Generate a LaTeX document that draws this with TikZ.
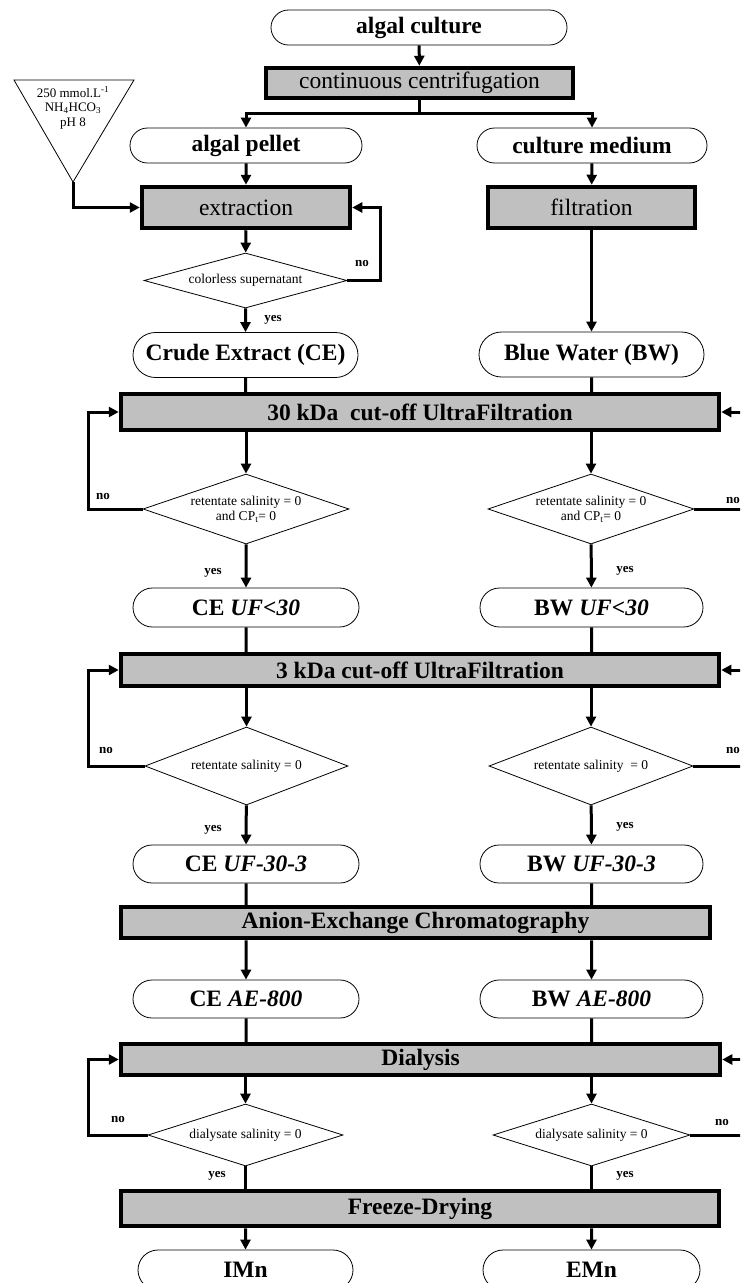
\documentclass[tikz,border=0pt]{standalone}
\usepackage{fontspec}
\setmainfont{Liberation Serif}
\usepackage{tikz}
\usetikzlibrary{shapes,arrows,positioning,calc,arrows.meta}

\definecolor{boxgray}{HTML}{C0C0C0}

\begin{document}
\begin{tikzpicture}[x=1pt,y=-1pt,
    oval/.style={rounded rectangle, draw, line width=0.8pt, inner sep=0pt, font=\fontsize{23.5}{26}\selectfont\bfseries},
    stage/.style={rectangle, draw, fill=boxgray, line width=4.5pt, inner sep=0pt, font=\fontsize{23.5}{26}\selectfont},
    test/.style={diamond, draw, line width=0.8pt, inner sep=0pt, align=center, font=\fontsize{13.5}{15}\selectfont},
    tag/.style={inner sep=0pt, font=\fontsize{13}{14}\selectfont\bfseries},
    line/.style={line width=3pt},
    flow/.style={line width=3pt, -{Triangle[length=10pt,width=10pt]}}]
    \useasboundingbox (0,0) rectangle (740,1283);
    \clip (0,0) rectangle (740,1283);
    % Harvest
    \node[oval, minimum width=296pt, minimum height=35pt] (culture) at (419,27.5) {algal culture};
    \node[stage, minimum width=307pt, minimum height=30pt] (centrif) at (419.5,83) {continuous centrifugation};
    \node[oval, minimum width=232pt, minimum height=35pt] (pellet) at (246,145.5) {algal pellet};
    \node[oval, minimum width=230pt, minimum height=35pt] (medium) at (592,145.5) {culture medium};
    \coordinate (split) at (419.5,113);
    \draw[flow] (culture) -- (centrif);
    \draw[line] (centrif) -- (split);
    \draw[flow] (split) -| (pellet.north);
    \draw[flow] (split) -| (medium.north);
    % Extraction and filtration
    \node[stage, minimum width=208pt, minimum height=41pt] (extract) at (246,207.5) {extraction};
    \node[stage, minimum width=207pt, minimum height=41pt] (filtr) at (591.5,207.5) {filtration};
    \draw[line width=0.8pt] (14,80) -- (134,80) -- (73,182) -- cycle;
    \node[align=center, inner sep=0pt, font=\fontsize{13}{14.5}\selectfont] (buffer) at (73,108)
        {250 mmol.L\textsuperscript{-1}\\NH\textsubscript{4}HCO\textsubscript{3}\\pH 8};
    \coordinate (apex) at (73,182);
    \draw[flow] (apex) |- (extract.west);
    \draw[flow] (pellet) -- (extract);
    \draw[flow] (medium) -- (filtr);
    \node[test, shape aspect=3.7, minimum width=203pt, minimum height=55pt] (supernat) at (245.5,280.5) {colorless supernatant};
    \draw[flow] (extract) -- (supernat);
    \draw[flow] (supernat.east) -- ++(33,0) |- (extract.east);
    \node[tag] (no1) at (362,263) {no};
    \node[oval, minimum width=225pt, minimum height=45pt] (CE) at (245.5,355) {Crude Extract (CE)};
    \node[oval, minimum width=225pt, minimum height=45pt] (BW) at (591.5,354.5) {Blue Water (BW)};
    \draw[flow] (supernat) -- (CE);
    \node[tag] (yes1) at (273,320) {yes};
    \draw[flow] (filtr) -- (BW);
    % 30 kDa ultrafiltration
    \node[stage, minimum width=598pt, minimum height=36pt, font=\fontsize{23.5}{26}\selectfont\bfseries] (uf30) at (420,412) {30 kDa\ \ cut-off UltraFiltration};
    \draw[line] (CE) -- (CE |- uf30.north);
    \draw[line] (BW) -- (BW |- uf30.north);
    \node[test, shape aspect=2.9, minimum width=206pt, minimum height=70pt] (d30L) at (246,509) {retentate salinity = 0\\and CP\textsubscript{t}= 0};
    \node[test, shape aspect=2.9, minimum width=206pt, minimum height=70pt] (d30R) at (591,509) {retentate salinity = 0\\and CP\textsubscript{t}= 0};
    \draw[flow] (d30L |- uf30.south) -- (d30L);
    \draw[flow] (d30R |- uf30.south) -- (d30R);
    \draw[flow] (d30L.west) -- ++(-54,0) |- (uf30.west);
    \draw[flow] (d30R.east) -- ++(70,0) |- (uf30.east);
    \node[tag] (no2L) at (103,496) {no};
    \node[tag] (no2R) at (733,500) {no};
    \node[oval, minimum width=226pt, minimum height=39pt] (ceuf30) at (246,607.5) {CE \textit{UF<30}};
    \node[oval, minimum width=223pt, minimum height=39pt] (bwuf30) at (591.5,607.5) {BW \textit{UF<30}};
    \draw[flow] (d30L) -- (ceuf30);
    \draw[flow] (d30R) -- (bwuf30);
    \node[tag] (yes2L) at (213,573) {yes};
    \node[tag] (yes2R) at (625,571) {yes};
    % 3 kDa ultrafiltration
    \node[stage, minimum width=598pt, minimum height=32pt, font=\fontsize{23.5}{26}\selectfont\bfseries] (uf3) at (420,670) {3 kDa cut-off UltraFiltration};
    \draw[line] (ceuf30) -- (ceuf30 |- uf3.north);
    \draw[line] (bwuf30) -- (bwuf30 |- uf3.north);
    \node[test, shape aspect=2.6, minimum width=203pt, minimum height=78pt] (d3L) at (246.5,766) {retentate salinity = 0};
    \node[test, shape aspect=2.6, minimum width=204pt, minimum height=78pt] (d3R) at (591,766) {retentate salinity\ \ = 0};
    \draw[flow] (d3L |- uf3.south) -- (d3L);
    \draw[flow] (d3R |- uf3.south) -- (d3R);
    \draw[flow] (d3L.west) -- ++(-56,0) |- (uf3.west);
    \draw[flow] (d3R.east) -- ++(70,0) |- (uf3.east);
    \node[tag] (no3L) at (106,750) {no};
    \node[tag] (no3R) at (733,750) {no};
    \node[oval, minimum width=226pt, minimum height=38pt] (ceuf3) at (246,864) {CE \textit{UF-30-3}};
    \node[oval, minimum width=223pt, minimum height=38pt] (bwuf3) at (591.5,864) {BW \textit{UF-30-3}};
    \draw[flow] (d3L) -- (ceuf3);
    \draw[flow] (d3R) -- (bwuf3);
    \node[tag] (yes3L) at (213,830) {yes};
    \node[tag] (yes3R) at (625,827) {yes};
    % Anion exchange
    \node[stage, minimum width=589pt, minimum height=31pt, font=\fontsize{23.5}{26}\selectfont\bfseries] (aex) at (415.5,922.5) {Anion-Exchange Chromatography};
    \draw[line] (ceuf3) -- (ceuf3 |- aex.north);
    \draw[line] (bwuf3) -- (bwuf3 |- aex.north);
    \node[oval, minimum width=226pt, minimum height=38pt] (ceae) at (246,999) {CE \textit{AE-800}};
    \node[oval, minimum width=223pt, minimum height=38pt] (bwae) at (591.5,999) {BW \textit{AE-800}};
    \draw[flow] (ceae |- aex.south) -- (ceae);
    \draw[flow] (bwae |- aex.south) -- (bwae);
    % Dialysis
    \node[stage, minimum width=599pt, minimum height=31pt, font=\fontsize{23.5}{26}\selectfont\bfseries] (dial) at (420.5,1059.5) {Dialysis};
    \draw[line] (ceae) -- (ceae |- dial.north);
    \draw[line] (bwae) -- (bwae |- dial.north);
    \node[test, shape aspect=3.1, minimum width=195pt, minimum height=62pt] (ddL) at (245.5,1135) {dialysate salinity = 0};
    \node[test, shape aspect=3.1, minimum width=197pt, minimum height=62pt] (ddR) at (591.5,1135) {dialysate salinity = 0};
    \draw[flow] (ddL |- dial.south) -- (ddL);
    \draw[flow] (ddR |- dial.south) -- (ddR);
    \draw[flow] (ddL.west) -- ++(-59,0) |- (dial.west);
    \draw[flow] (ddR.east) -- ++(70,0) |- (dial.east);
    \node[tag] (no4L) at (118,1119) {no};
    \node[tag] (no4R) at (722,1122) {no};
    \node[tag] (yes4L) at (217,1176) {yes};
    \node[tag] (yes4R) at (625,1176) {yes};
    % Freeze-drying
    \node[stage, minimum width=598pt, minimum height=35pt, font=\fontsize{23.5}{26}\selectfont\bfseries] (freeze) at (420,1208.5) {Freeze-Drying};
    \draw[line] (ddL) -- (ddL |- freeze.north);
    \draw[line] (ddR) -- (ddR |- freeze.north);
    \node[oval, minimum width=215pt, minimum height=40pt] (imn) at (245.5,1270) {IMn};
    \node[oval, minimum width=217pt, minimum height=40pt] (emn) at (591.5,1270) {EMn};
    \draw[flow] (imn |- freeze.south) -- (imn);
    \draw[flow] (emn |- freeze.south) -- (emn);
\end{tikzpicture}
\end{document}
